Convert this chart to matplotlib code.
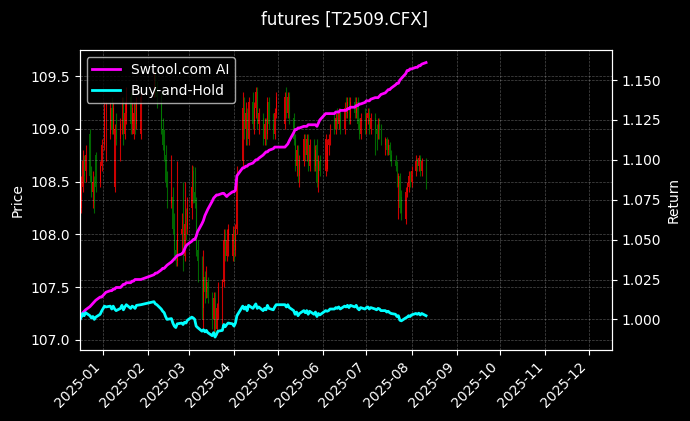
import pandas as pd
import matplotlib
matplotlib.use("Agg")
import matplotlib.pyplot as plt
import matplotlib.dates as mdates

title = "futures [T2509.CFX]"

# trading days: weekdays between first and last bar, minus exchange holidays
first_day = "2024-12-16"
last_day = "2025-08-11"
holidays = ["2025-01-01", "2025-01-28", "2025-01-29", "2025-01-30", "2025-01-31",
            "2025-02-03", "2025-02-04", "2025-04-04", "2025-05-01", "2025-05-02",
            "2025-05-05", "2025-06-02"]

# daily OHLC, grouped by month
opens = [
    # Dec
    108.60, 108.25, 108.45, 108.70, 108.60, 108.95, 108.55, 108.40, 108.50, 108.75, 108.50, 108.65,
    # Jan
    108.85, 108.80, 108.95, 109.20, 109.00, 108.45, 109.00, 108.90, 109.05, 109.25, 108.95, 109.15,
    109.30, 109.05, 108.95, 109.15, 109.05, 108.95,
    # Feb
    109.40, 109.50, 109.35, 109.30, 109.00, 108.85, 108.75, 108.50, 108.30, 108.35, 108.05, 107.85,
    107.75, 108.00, 108.05, 107.80, 108.10, 108.05,
    # Mar
    108.25, 108.60, 108.40, 108.30, 107.85, 107.75, 107.30, 107.60, 107.45, 107.55, 107.40, 107.20,
    107.40, 107.10, 107.30, 107.50, 107.55, 107.95, 107.80, 107.95, 107.80,
    # Apr
    108.00, 107.85, 108.05, 108.70, 109.20, 109.00, 109.15, 108.90, 109.25, 109.05, 109.20, 109.35,
    109.05, 109.10, 108.90, 109.05, 108.95, 109.25, 109.05, 108.95, 109.15,
    # May
    109.05, 109.30, 109.15, 109.30, 109.10, 108.90, 108.65, 108.80, 108.55, 108.70, 108.90, 108.75,
    108.90, 108.65, 108.85, 108.65, 108.85, 108.50, 108.70,
    # Jun
    108.60, 108.62, 108.85, 108.90, 109.10, 109.00, 109.10, 109.05, 109.15, 109.00, 109.20, 109.15,
    109.25, 109.10, 109.25, 109.15, 109.25, 109.05, 108.95, 109.10,
    # Jul
    109.00, 109.10, 109.15, 109.00, 109.10, 109.00, 108.95, 109.05, 109.00, 108.85, 108.90, 108.80,
    108.85, 108.75, 108.70, 108.65, 108.45, 108.55, 108.35, 108.15, 108.40, 108.45, 108.55,
    # Aug
    108.50, 108.60, 108.70, 108.65, 108.72, 108.60, 108.70,
]
highs = [
    108.65, 108.55, 108.80, 108.75, 108.85, 109.00, 108.65, 108.60, 108.55, 108.78, 108.70, 108.90,
    109.25, 109.25, 109.25, 109.30, 109.25, 109.05, 109.15, 109.10, 109.30, 109.30, 109.25, 109.40,
    109.35, 109.25, 109.25, 109.25, 109.30, 109.40,
    109.55, 109.55, 109.45, 109.35, 109.10, 109.00, 108.85, 108.60, 108.75, 108.45, 108.20, 107.95,
    108.70, 108.20, 108.50, 108.50, 108.25, 108.35,
    108.66, 108.65, 108.64, 108.35, 107.95, 107.80, 107.85, 107.65, 107.70, 107.60, 107.45, 107.45,
    107.45, 107.35, 107.55, 107.58, 108.05, 108.05, 108.05, 108.10, 108.08,
    108.05, 108.10, 108.65, 109.35, 109.30, 109.25, 109.20, 109.30, 109.35, 109.25, 109.40, 109.40,
    109.20, 109.15, 109.10, 109.10, 109.30, 109.30, 109.15, 109.20, 109.35,
    109.35, 109.40, 109.35, 109.35, 109.15, 108.95, 108.85, 108.85, 108.75, 108.95, 108.95, 108.95,
    108.95, 108.90, 108.90, 108.85, 108.90, 108.75, 108.75,
    108.95, 108.90, 108.95, 109.05, 109.15, 109.15, 109.20, 109.20, 109.20, 109.25, 109.30, 109.30,
    109.30, 109.30, 109.30, 109.30, 109.30, 109.10, 109.15, 109.20,
    109.15, 109.20, 109.20, 109.15, 109.15, 109.05, 109.10, 109.10, 109.05, 108.92, 108.92, 108.90,
    108.88, 108.80, 108.75, 108.70, 108.58, 108.58, 108.42, 108.45, 108.50, 108.60, 108.60,
    108.65, 108.75, 108.72, 108.75, 108.75, 108.72, 108.72,
]
lows = [
    108.15, 108.20, 108.40, 108.50, 108.50, 108.50, 108.35, 108.25, 108.20, 108.40, 108.45, 108.60,
    108.80, 108.70, 108.90, 108.95, 108.95, 108.40, 108.85, 108.70, 108.95, 108.85, 108.90, 109.05,
    108.95, 108.95, 108.90, 108.95, 109.00, 108.90,
    109.30, 109.30, 109.20, 108.95, 108.80, 108.70, 108.45, 108.25, 108.25, 108.00, 107.80, 107.70,
    107.70, 107.85, 107.65, 107.75, 107.95, 108.00,
    108.15, 108.30, 108.25, 107.80, 107.55, 107.20, 107.10, 107.35, 107.40, 107.35, 107.10, 107.05,
    107.05, 107.05, 107.20, 107.15, 107.50, 107.75, 107.75, 107.80, 107.75,
    107.75, 107.80, 108.00, 108.65, 108.90, 108.85, 108.85, 108.85, 109.00, 108.95, 109.10, 109.00,
    108.95, 108.85, 108.85, 108.85, 108.90, 109.00, 108.90, 108.90, 109.10,
    109.00, 109.10, 109.10, 109.05, 108.85, 108.60, 108.55, 108.50, 108.45, 108.65, 108.70, 108.70,
    108.60, 108.60, 108.60, 108.60, 108.45, 108.40, 108.55,
    108.55, 108.60, 108.75, 108.85, 108.95, 108.95, 109.00, 109.00, 108.95, 108.95, 109.10, 109.10,
    109.05, 109.05, 109.10, 109.10, 109.00, 108.90, 108.90, 108.95,
    108.95, 109.05, 108.95, 108.95, 108.75, 108.80, 108.90, 108.90, 108.85, 108.75, 108.75, 108.75,
    108.70, 108.65, 108.60, 108.45, 108.15, 108.20, 108.14, 108.10, 108.35, 108.40, 108.45,
    108.45, 108.55, 108.60, 108.60, 108.55, 108.55, 108.43,
]
closes = [
    108.25, 108.45, 108.70, 108.55, 108.75, 108.55, 108.40, 108.50, 108.30, 108.45, 108.65, 108.85,
    109.20, 109.15, 109.20, 109.00, 109.20, 109.00, 108.90, 109.05, 109.25, 108.95, 109.15, 109.30,
    109.05, 109.20, 109.15, 109.05, 109.25, 109.30,
    109.50, 109.35, 109.30, 109.00, 108.85, 108.75, 108.50, 108.30, 108.35, 108.05, 107.85, 107.75,
    108.00, 108.05, 107.95, 108.10, 108.05, 108.25,
    108.45, 108.40, 108.30, 107.85, 107.75, 107.50, 107.60, 107.45, 107.55, 107.40, 107.20, 107.40,
    107.10, 107.30, 107.50, 107.55, 107.95, 107.80, 107.95, 108.05, 108.00,
    107.85, 108.05, 108.55, 109.20, 109.00, 109.15, 108.90, 109.25, 109.05, 109.20, 109.35, 109.05,
    109.15, 108.90, 109.05, 108.95, 109.25, 109.05, 108.95, 109.15, 109.30,
    109.30, 109.15, 109.30, 109.10, 108.90, 108.65, 108.80, 108.55, 108.70, 108.90, 108.75, 108.90,
    108.65, 108.85, 108.65, 108.80, 108.50, 108.70, 108.60,
    108.90, 108.85, 108.90, 109.00, 109.00, 109.10, 109.05, 109.15, 109.00, 109.20, 109.15, 109.25,
    109.10, 109.25, 109.15, 109.25, 109.05, 108.95, 109.10, 109.00,
    109.10, 109.15, 109.00, 109.10, 109.00, 108.95, 109.05, 109.00, 108.90, 108.90, 108.80, 108.85,
    108.75, 108.70, 108.65, 108.50, 108.55, 108.25, 108.20, 108.40, 108.45, 108.55, 108.50,
    108.60, 108.70, 108.65, 108.72, 108.60, 108.70, 108.55,
]

# cumulative return curves
strategy = [
    1.000, 1.002, 1.004, 1.005, 1.006, 1.008, 1.009, 1.010, 1.011, 1.012, 1.014, 1.014,
    1.016, 1.017, 1.018, 1.018, 1.019, 1.019, 1.020, 1.020, 1.021, 1.022, 1.022, 1.023,
    1.023, 1.024, 1.024, 1.025, 1.025, 1.025,
    1.028, 1.029, 1.029, 1.031, 1.032, 1.032, 1.033, 1.034, 1.036, 1.037, 1.038, 1.039,
    1.040, 1.041, 1.042, 1.044, 1.046, 1.047,
    1.049, 1.050, 1.050, 1.052, 1.055, 1.060, 1.062, 1.065, 1.067, 1.069, 1.074, 1.076,
    1.077, 1.078, 1.078, 1.079, 1.079, 1.078, 1.077, 1.078, 1.080,
    1.080, 1.081, 1.090, 1.095, 1.095, 1.096, 1.096, 1.097, 1.098, 1.099, 1.100, 1.100,
    1.101, 1.103, 1.104, 1.105, 1.105, 1.106, 1.107, 1.108, 1.108,
    1.108, 1.109, 1.110, 1.112, 1.117, 1.119, 1.119, 1.120, 1.120, 1.121, 1.121, 1.121,
    1.122, 1.122, 1.122, 1.122, 1.121, 1.123, 1.125,
    1.129, 1.129, 1.129, 1.129, 1.129, 1.130, 1.130, 1.130, 1.131, 1.131, 1.131, 1.132,
    1.132, 1.133, 1.133, 1.134, 1.134, 1.135, 1.135, 1.136,
    1.137, 1.137, 1.137, 1.138, 1.139, 1.139, 1.139, 1.140, 1.141, 1.142, 1.143, 1.144,
    1.144, 1.145, 1.147, 1.148, 1.148, 1.150, 1.151, 1.154, 1.156, 1.156, 1.157,
    1.157, 1.158, 1.158, 1.159, 1.159, 1.160, 1.161,
]
buy_hold = [
    0.9995, 1.0014, 1.0037, 1.0023, 1.0042, 1.0023, 1.0009, 1.0018, 1.0000, 1.0014, 1.0032, 1.0051,
    1.0083, 1.0078, 1.0083, 1.0065, 1.0083, 1.0065, 1.0055, 1.0069, 1.0088, 1.0060, 1.0078, 1.0092,
    1.0069, 1.0083, 1.0078, 1.0069, 1.0088, 1.0092,
    1.0111, 1.0097, 1.0092, 1.0065, 1.0051, 1.0042, 1.0018, 1.0000, 1.0005, 0.9977, 0.9958, 0.9949,
    0.9972, 0.9977, 0.9968, 0.9982, 0.9977, 0.9995,
    1.0014, 1.0009, 1.0000, 0.9958, 0.9949, 0.9926, 0.9935, 0.9922, 0.9931, 0.9917, 0.9898, 0.9917,
    0.9889, 0.9908, 0.9926, 0.9931, 0.9968, 0.9954, 0.9968, 0.9977, 0.9972,
    0.9958, 0.9977, 1.0023, 1.0083, 1.0065, 1.0078, 1.0055, 1.0088, 1.0069, 1.0083, 1.0097, 1.0069,
    1.0078, 1.0055, 1.0069, 1.0060, 1.0088, 1.0069, 1.0060, 1.0078, 1.0092,
    1.0092, 1.0078, 1.0092, 1.0074, 1.0055, 1.0032, 1.0046, 1.0023, 1.0037, 1.0055, 1.0042, 1.0055,
    1.0032, 1.0051, 1.0032, 1.0046, 1.0018, 1.0037, 1.0028,
    1.0055, 1.0051, 1.0055, 1.0065, 1.0065, 1.0074, 1.0069, 1.0078, 1.0065, 1.0083, 1.0078, 1.0088,
    1.0074, 1.0088, 1.0078, 1.0088, 1.0069, 1.0060, 1.0074, 1.0065,
    1.0074, 1.0078, 1.0065, 1.0074, 1.0065, 1.0060, 1.0069, 1.0065, 1.0055, 1.0055, 1.0046, 1.0051,
    1.0042, 1.0037, 1.0032, 1.0018, 1.0023, 0.9995, 0.9991, 1.0009, 1.0014, 1.0023, 1.0018,
    1.0028, 1.0037, 1.0032, 1.0039, 1.0028, 1.0037, 1.0023,
]

dates = pd.bdate_range(first_day, last_day)
dates = dates[~dates.isin(pd.to_datetime(holidays))]

df = pd.DataFrame({"open": opens, "high": highs, "low": lows, "close": closes,
                   "strategy": strategy, "buy_hold": buy_hold}, index=dates)

plt.style.use("dark_background")
fig, ax = plt.subplots(figsize=(6.9, 4.21), dpi=100)
fig.subplots_adjust(left=0.1154, right=0.8867, bottom=0.1686, top=0.881)

up = df["close"] >= df["open"]
colors = ["red" if u else "green" for u in up]
ax.vlines(df.index, df["low"], df["high"], colors=colors, linewidth=0.8, alpha=0.8)
ax.bar(df.index, (df["close"] - df["open"]).abs(), bottom=df[["open", "close"]].min(axis=1),
       width=0.6, color=colors, alpha=0.8)
ax.set_ylabel("Price")
ax.set_ylim(106.905, 109.746)
ax.grid(True, linestyle="--", linewidth=0.5, alpha=0.3)

ax2 = ax.twinx()
ax2.plot(df.index, df["strategy"], color="magenta", linewidth=2, label="Swtool.com AI")
ax2.plot(df.index, df["buy_hold"], color="cyan", linewidth=2, label="Buy-and-Hold")
ax2.set_ylabel("Return")
ax2.set_ylim(0.9808, 1.1688)
ax2.grid(True, linestyle="--", linewidth=0.5, alpha=0.3)
ax2.legend(loc="upper left")

ax.set_xlim(pd.Timestamp("2024-12-15 22:00"), pd.Timestamp("2025-12-16 16:00"))
ax.xaxis.set_major_locator(mdates.MonthLocator())
ax.xaxis.set_major_formatter(mdates.DateFormatter("%Y-%m"))
plt.setp(ax.get_xticklabels(), rotation=45, ha="right")

fig.suptitle(title, y=0.975)
fig.savefig("out.png", dpi=100)
